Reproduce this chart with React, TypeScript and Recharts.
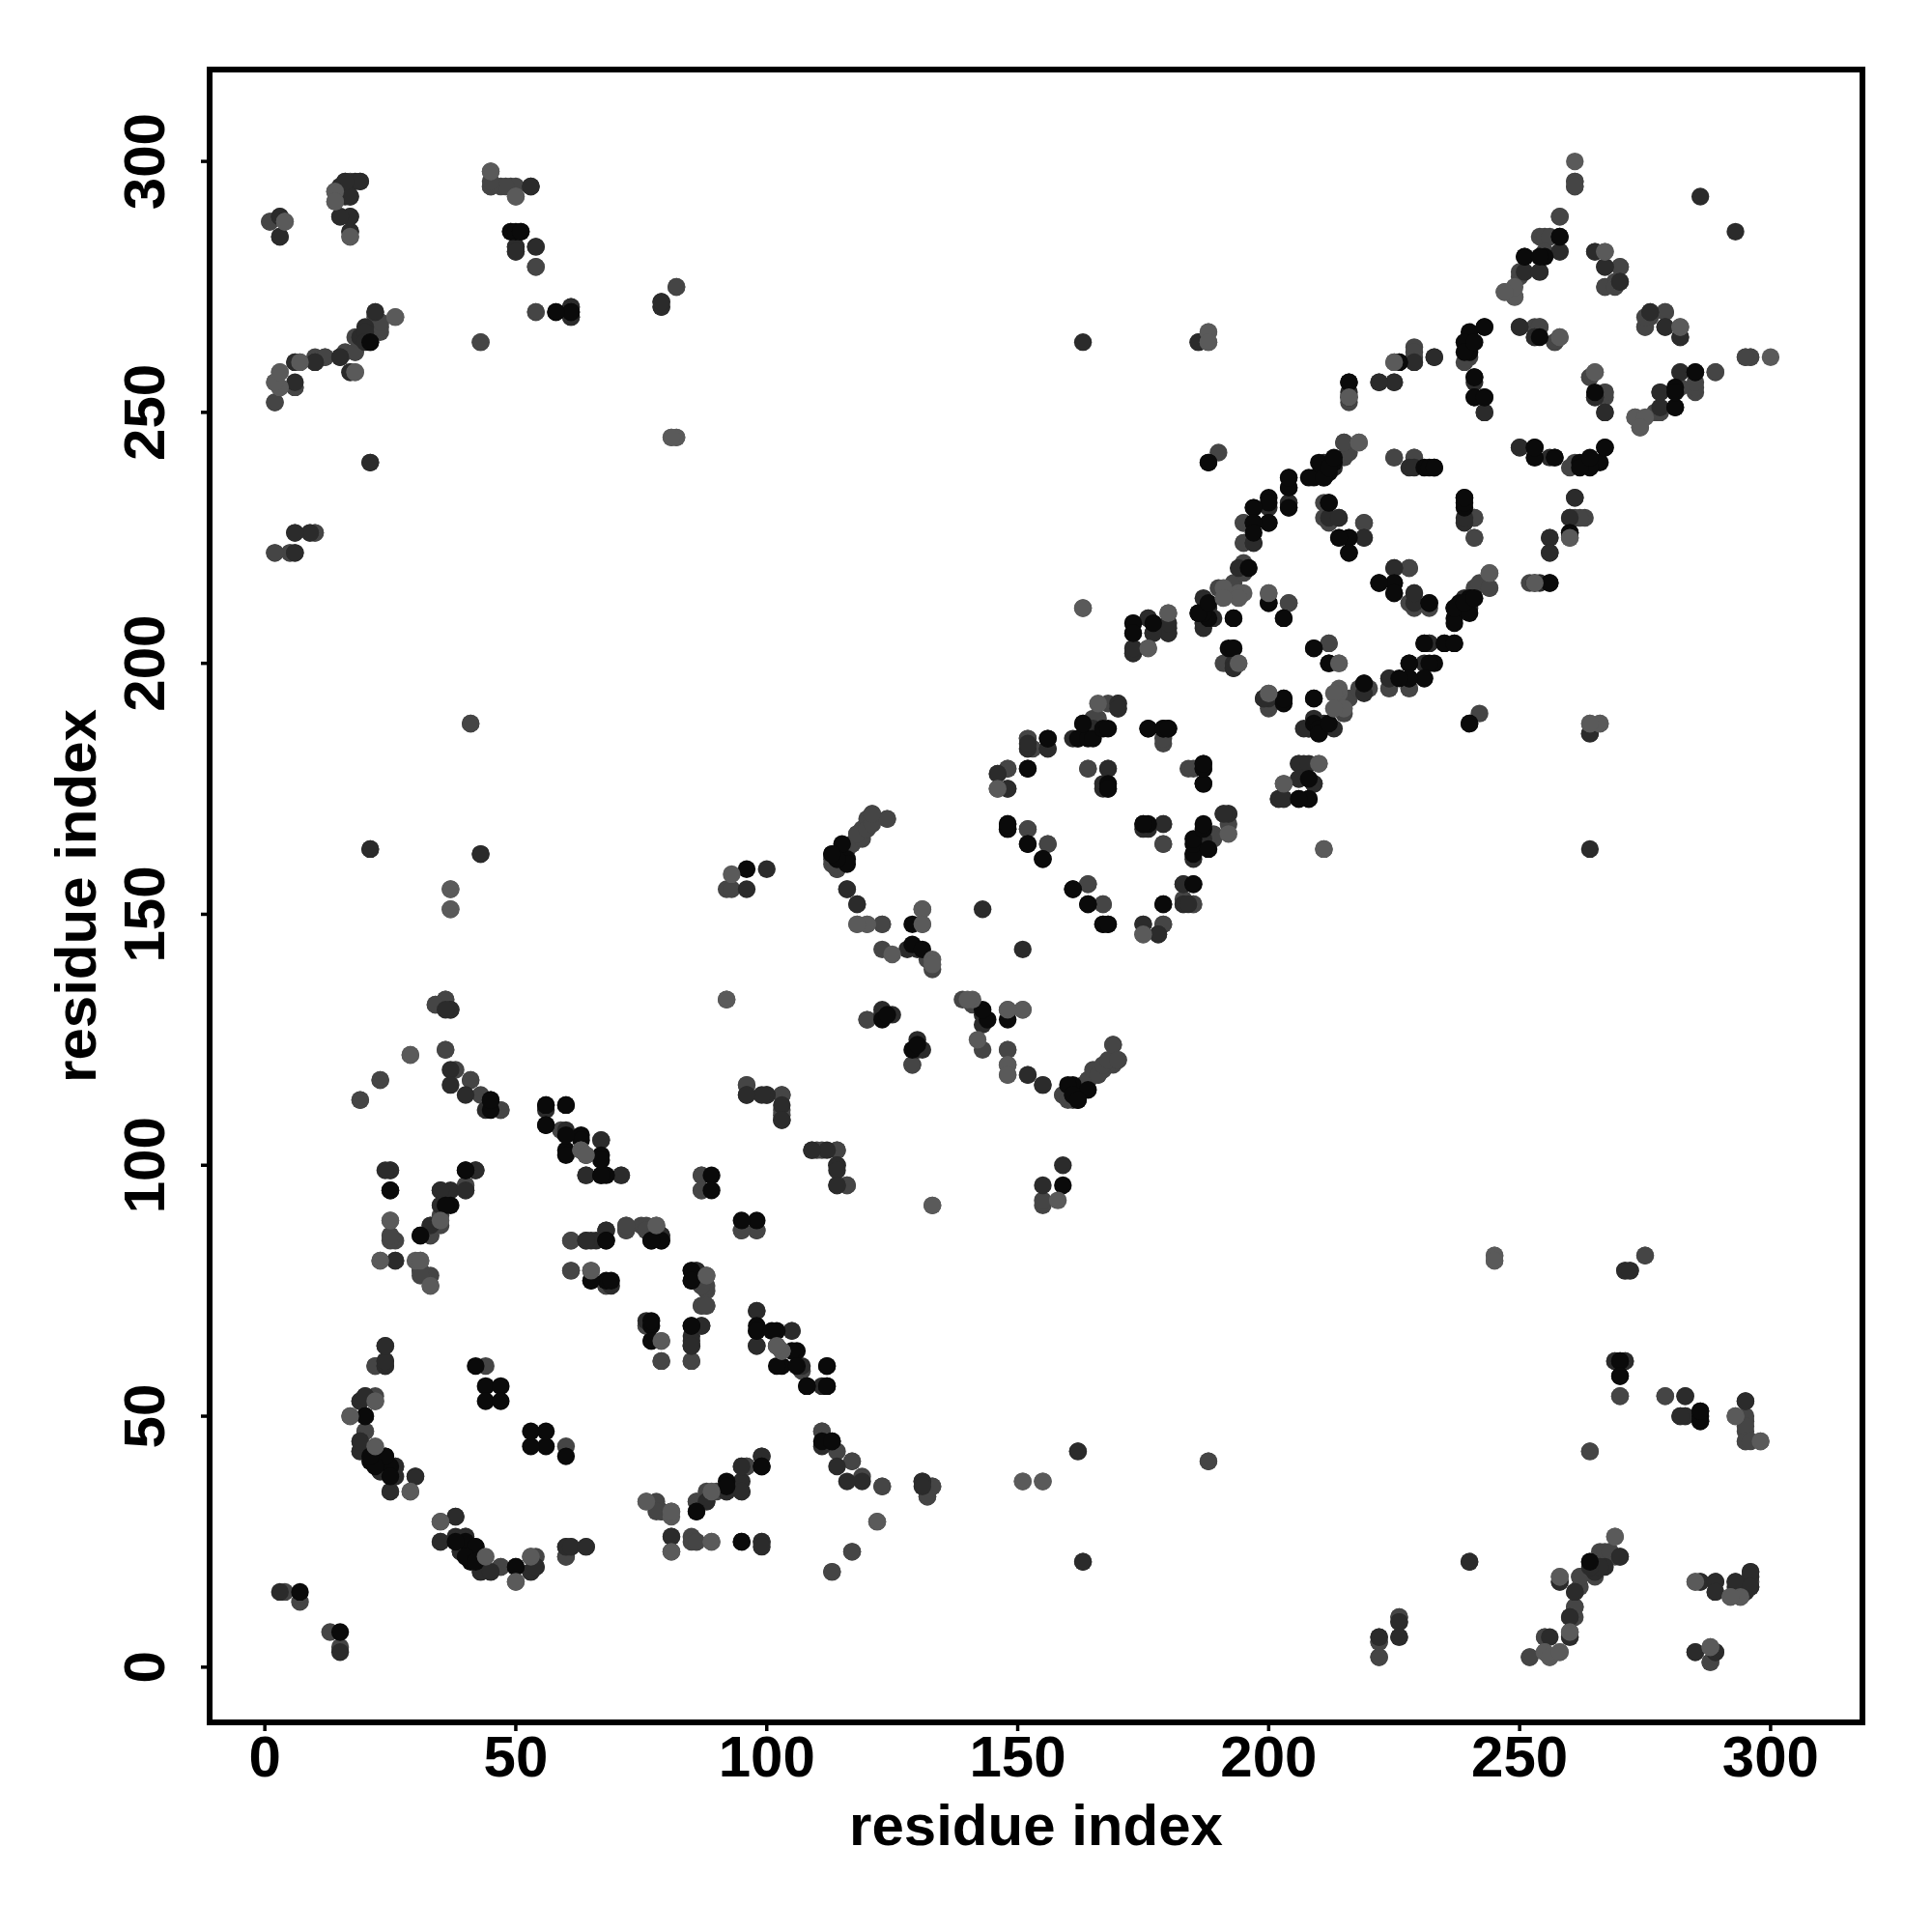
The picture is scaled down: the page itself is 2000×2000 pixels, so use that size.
import * as React from "react";
import { ReferenceArea, Scatter, ScatterChart, XAxis, YAxis } from "recharts";

// contact pairs (residue, residue), grouped by how dark the dot is
const contactsLight = [
  [4,288],[14,294],[14,292],[17,285],[2,256],[3,258],[3,255],[7,260],[18,258],[26,269],[45,298],[50,293],[81,245],[82,245],
  [37,155],[37,151],[93,158],[118,148],[120,148],[125,142],[133,141],[92,133],[133,140],
  [148,120],[148,118],[151,131],[148,131],[146,175],[192,166],[176,203],[180,210],[194,214],[194,200],[214,200],[214,195],
  [213,194],[215,191],[213,191],[244,218],[218,244],[225,260],[265,258],[258,265],[267,282],[282,267],[273,249],[275,249],
  [300,261],[247,274],[188,266],[188,264],[211,163],[266,188],[264,188],[253,216],[22,44],[22,53],[29,122],[29,35],[50,17],
  [25,89],[30,81],[63,103],[78,88],[79,65],[103,63],[89,35],[76,33],[81,31],[81,23],[89,25],[245,82],[245,81],[293,50],
  [151,37],[155,37],[255,3],[256,2],[258,3],[258,18],[269,26],[292,14],[288,4],[102,64],
];

const contactsMid = [
  [1,288],[2,252],[6,255],[6,260],[10,261],[12,261],[16,262],[18,262],[17,258],[18,265],[22,266],[23,266],[23,268],[22,269],
  [2,222],[5,222],[10,226],[45,295],[47,295],[49,295],[54,279],[54,270],[61,269],[82,275],[41,188],[43,264],[92,155],[93,155],
  [113,161],[114,159],[117,164],[118,166],[119,167],[120,168],[120,169],[121,170],[124,169],[123,148],[131,148],[131,151],
  [123,143],[120,129],[129,120],[132,141],[133,139],[148,123],[152,118],[155,116],[159,114],[160,113],[163,116],[164,117],
  [165,119],[166,118],[167,120],[168,121],[169,124],[170,121],[152,167],[156,164],[164,156],[167,152],[175,146],[179,148],
  [185,152],[179,164],[184,179],[188,163],[188,165],[189,166],[191,170],[192,170],[164,179],[179,185],[152,185],[152,183],
  [153,183],[148,179],[148,175],[165,189],[168,192],[190,215],[192,214],[193,216],[195,220],[195,218],[200,214],[204,212],
  [191,200],[212,204],[200,194],[200,192],[224,195],[228,195],[210,180],[203,176],[228,219],[228,212],[232,211],[241,215],
  [242,216],[244,215],[219,228],[211,229],[195,228],[195,224],[215,244],[225,241],[229,241],[241,229],[241,225],[261,240],
  [261,229],[263,229],[260,229],[260,225],[216,252],[229,262],[239,260],[225,256],[253,267],[254,267],[257,264],[264,257],
  [267,254],[285,254],[275,267],[276,269],[279,270],[277,250],[274,247],[289,258],[295,261],[296,261],[261,296],[261,295],
  [258,289],[258,282],[255,285],[256,285],[255,282],[250,278],[249,273],[270,279],[267,275],[269,275],[186,264],[163,211],
  [190,242],[4,15],[7,13],[17,50],[20,47],[26,40],[25,35],[22,60],[44,60],[35,29],[39,23],[47,20],[53,22],[54,22],[60,22],
  [34,132],[36,133],[36,123],[23,117],[19,113],[41,117],[47,111],[59,107],[67,105],[71,98],[25,86],[26,85],[23,81],[31,81],
  [31,79],[33,76],[33,86],[35,88],[35,90],[33,88],[40,96],[40,95],[61,85],[68,76],[61,79],[65,79],[65,77],[72,88],[72,87],
  [75,88],[76,87],[88,78],[88,76],[87,72],[88,72],[87,76],[76,68],[79,61],[85,61],[95,87],[98,87],[87,98],[87,95],[96,116],
  [103,114],[103,110],[111,103],[114,103],[116,96],[133,92],[111,47],[114,43],[117,41],[119,38],[123,36],[133,36],[132,34],
  [122,29],[117,23],[113,19],[96,40],[86,33],[78,33],[79,31],[78,31],[85,25],[86,25],[99,25],[222,5],[222,2],[226,10],[252,2],
  [255,6],[260,7],[261,12],[262,18],[267,23],[268,23],[285,17],[294,14],[296,17],[288,1],[279,54],[270,54],[295,50],[295,48],
  [295,45],[296,45],[298,45],[275,82],[188,41],[264,43],
];

const contactsDark = [
  [3,289],[15,295],[16,296],[18,296],[19,296],[15,289],[17,289],[17,286],[6,256],[10,260],[15,261],[19,265],[20,267],[22,270],
  [6,222],[6,226],[9,226],[53,295],[50,283],[50,282],[54,283],[61,271],[79,272],[79,271],[21,163],[43,162],[96,155],[100,159],
  [116,155],[118,152],[123,130],[125,130],[128,143],[130,143],[131,123],[143,151],[148,167],[175,148],[178,146],[183,152],
  [183,156],[184,152],[179,168],[176,167],[175,167],[156,183],[146,178],[168,179],[161,185],[162,185],[164,186],[165,187],
  [170,192],[170,191],[173,203],[173,202],[176,209],[177,206],[180,207],[180,206],[187,213],[188,211],[187,208],[196,219],
  [193,200],[193,199],[199,193],[219,194],[224,197],[231,200],[232,204],[237,204],[207,187],[208,187],[209,189],[206,180],
  [208,180],[206,177],[209,176],[202,173],[203,173],[206,173],[208,173],[225,219],[225,214],[229,214],[240,211],[239,213],
  [216,225],[212,229],[214,229],[219,225],[204,235],[204,232],[204,231],[197,224],[228,239],[239,229],[250,243],[256,241],
  [261,233],[256,225],[256,222],[254,216],[222,256],[229,260],[233,261],[243,250],[267,250],[265,253],[250,267],[253,265],
  [276,270],[279,267],[282,265],[282,258],[278,254],[278,251],[286,293],[254,278],[265,282],[267,279],[270,276],[163,264],
  [264,186],[163,21],[162,43],[3,15],[19,53],[20,54],[19,45],[19,43],[23,39],[26,38],[30,38],[24,64],[24,61],[24,60],[38,30],
  [35,25],[40,26],[43,19],[45,19],[53,19],[54,20],[60,24],[61,24],[64,24],[37,131],[37,119],[40,114],[44,111],[60,107],[64,98],
  [25,99],[26,81],[35,92],[35,95],[37,95],[42,99],[64,85],[66,85],[68,87],[69,76],[79,86],[85,79],[86,79],[87,68],[85,65],
  [85,64],[98,71],[98,64],[105,67],[111,56],[96,114],[100,114],[103,112],[103,109],[109,103],[114,100],[114,99],[114,96],
  [116,37],[131,37],[131,36],[99,42],[95,40],[95,35],[92,35],[88,33],[86,31],[81,26],[99,24],[222,6],[226,9],[226,6],[260,6],
  [260,10],[258,17],[265,19],[266,20],[270,22],[261,15],[264,21],[286,17],[289,17],[289,15],[293,17],[296,19],[289,3],[283,54],
  [283,50],[282,50],[286,49],[295,53],[271,79],[272,79],[269,61],[271,61],[3,285],[21,240],[16,293],[17,293],[240,21],
  [285,3],[296,16],[264,20],
];

const contactsBlack = [
  [21,264],[49,286],[50,286],[51,286],[58,270],[61,270],[96,159],[113,162],[114,161],[116,161],
  [115,164],[129,148],[129,144],[131,143],[123,129],[130,124],[160,116],[161,114],[162,113],[148,168],[152,164],[155,161],
  [161,155],[164,152],[167,148],[168,148],[179,152],[185,156],[185,162],[185,164],[185,165],[187,167],[175,168],[187,179],
  [187,176],[187,180],[168,176],[168,175],[176,187],[179,187],[180,187],[156,185],[152,179],[163,188],[168,187],[173,208],
  [173,206],[177,208],[186,210],[188,209],[193,209],[200,212],[203,209],[193,203],[192,203],[209,203],[212,200],[209,193],
  [203,193],[219,196],[228,197],[231,197],[228,200],[233,200],[231,204],[235,204],[210,187],[210,186],[212,188],[222,216],
  [225,216],[232,212],[237,209],[237,211],[238,212],[240,213],[216,222],[214,225],[212,232],[208,237],[211,237],[210,240],
  [212,239],[213,241],[204,237],[200,232],[197,231],[200,228],[197,228],[197,226],[231,239],[233,239],[232,239],[239,233],
  [253,243],[253,241],[257,241],[262,240],[264,240],[265,240],[267,243],[260,226],[256,216],[216,256],[216,253],[226,260],
  [240,266],[239,264],[239,262],[241,264],[243,267],[241,257],[241,253],[243,253],[265,254],[285,258],[281,255],[281,251],
  [258,285],[251,281],[254,281],[188,240],[240,188],[7,15],[20,50],[21,41],[24,42],[25,40],[42,60],[44,56],[47,56],[44,53],
  [47,53],[38,25],[42,24],[40,22],[42,21],[50,20],[45,113],[56,112],[60,112],[56,108],[63,106],[60,103],[64,102],[67,102],
  [67,98],[31,86],[37,92],[40,99],[25,95],[68,85],[68,77],[77,85],[79,85],[85,77],[77,69],[77,65],[85,68],[98,68],[98,67],
  [101,67],[105,63],[102,60],[106,60],[108,56],[112,60],[112,56],[89,98],[89,95],[111,45],[113,45],[99,40],[92,36],[95,25],
  [270,61],[270,58],[286,51],
];

const axisTicks = [0, 50, 100, 150, 200, 250, 300];
const axisTitle = "residue index";

const FONT = "Liberation Sans";

// the contact map is symmetric, every pair is drawn on both sides of the diagonal
const mirrored = (pairs: number[][]) =>
  pairs.flatMap(([i, j]) => [{ x: i, y: j }, { x: j, y: i }]);

const XTick = ({ x, y, payload }: any) => (
  <text x={x} y={y + 45} textAnchor="middle" fontFamily={FONT} fontWeight="bold" fontSize={60} fill="#000">
    {payload.value}
  </text>
);

const YTick = ({ x, y, payload }: any) => (
  <text
    transform={`translate(${x - 36}, ${y}) rotate(-90)`}
    textAnchor="middle"
    fontFamily={FONT}
    fontWeight="bold"
    fontSize={60}
    fill="#000"
  >
    {payload.value}
  </text>
);

const Dot = ({ cx, cy, fill }: any) => <circle cx={cx} cy={cy} r={9.2} fill={fill} />;

export default function App() {
  return (
    <div style={{ position: "absolute", left: 0, top: 0, width: 2000, height: 2000, background: "#fff" }}>
      <ScatterChart width={2000} height={2000} margin={{ top: 72, right: 72, bottom: 0, left: 0 }}>
        <XAxis
          type="number"
          dataKey="x"
          domain={[-11, 318.3]}
          ticks={axisTicks}
          allowDataOverflow
          height={217}
          axisLine={false}
          tickLine={{ stroke: "#000", strokeWidth: 3.5 }}
          tickSize={9}
          tick={<XTick />}
          interval={0}
          label={{
            value: axisTitle,
            position: "insideBottom",
            offset: 90,
            style: { fontFamily: FONT, fontWeight: "bold", fontSize: 60, fill: "#000" },
          }}
        />
        <YAxis
          type="number"
          dataKey="y"
          domain={[-11, 318.3]}
          ticks={axisTicks}
          allowDataOverflow
          width={217}
          axisLine={false}
          tickLine={{ stroke: "#000", strokeWidth: 3.5 }}
          tickSize={9}
          tick={<YTick />}
          interval={0}
          label={{
            value: axisTitle,
            angle: -90,
            position: "insideLeft",
            offset: 78,
            style: { fontFamily: FONT, fontWeight: "bold", fontSize: 60, fill: "#000", textAnchor: "middle" },
          }}
        />
        <Scatter data={mirrored(contactsMid)} fill="#454545" shape={<Dot />} isAnimationActive={false} />
        <Scatter data={mirrored(contactsDark)} fill="#2b2b2b" shape={<Dot />} isAnimationActive={false} />
        <Scatter data={mirrored(contactsBlack)} fill="#0a0a0a" shape={<Dot />} isAnimationActive={false} />
        <Scatter data={mirrored(contactsLight)} fill="#5a5a5a" shape={<Dot />} isAnimationActive={false} />
        <ReferenceArea
          x1={-11}
          x2={318.3}
          y1={-11}
          y2={318.3}
          fill="none"
          stroke="#000"
          strokeWidth={6}
          ifOverflow="visible"
        />
      </ScatterChart>
    </div>
  );
}
